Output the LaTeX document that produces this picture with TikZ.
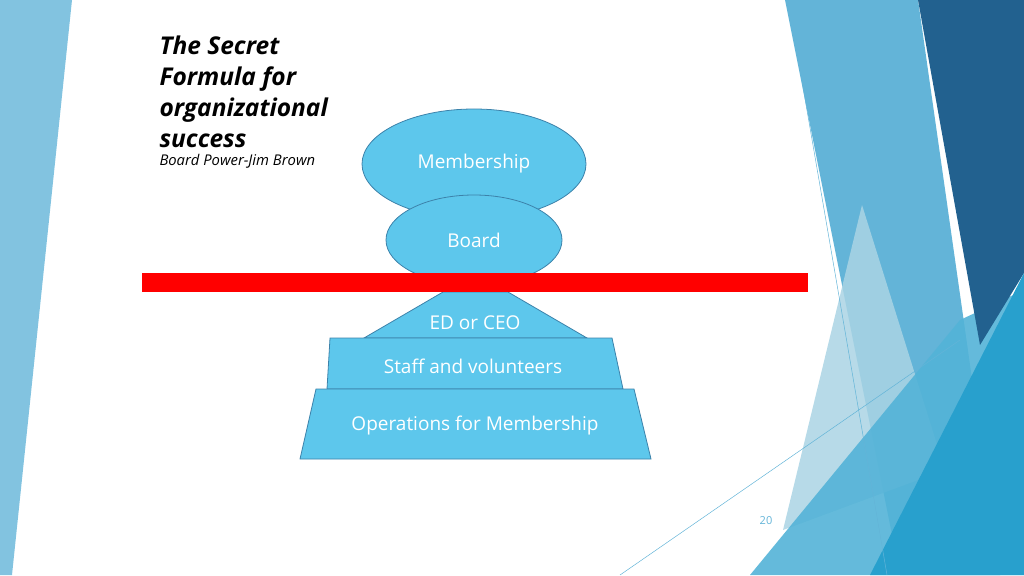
\documentclass[tikz,border=0pt]{standalone}
\usepackage{fontspec}
\setmainfont{Open Sans}
\usetikzlibrary{shapes.geometric}
\definecolor{tierblue}{RGB}{93,199,236}
\definecolor{tierline}{RGB}{60,130,170}
\definecolor{lightdeco}{RGB}{99,180,216}
\definecolor{darkdeco}{RGB}{34,97,143}
\definecolor{middeco}{RGB}{40,160,205}
\definecolor{paledeco}{RGB}{170,212,228}
\begin{document}
\begin{tikzpicture}[x=1pt,y=-1pt,
  tier/.style={fill=tierblue,draw=tierline,line width=0.8pt},
  oval/.style={ellipse,fill=tierblue,draw=tierline,line width=0.8pt,text=white,font=\fontsize{19}{21}\selectfont},
  tiertext/.style={text=white,font=\fontsize{19}{21}\selectfont}]
  \useasboundingbox (0,0) rectangle (1024,575);

  % background decoration
  \fill[lightdeco!80] (0,0) -- (72,0) -- (12,575) -- (0,575) -- cycle;
  \fill[lightdeco] (785,0) -- (918,0) -- (1000,575) -- (900,575) -- cycle;
  \fill[paledeco,opacity=0.85] (862,205) -- (945,470) -- (783,530) -- cycle;
  \fill[middeco!80!white,opacity=0.9] (750,575) -- (960,320) -- (1024,290) -- (1024,575) -- cycle;
  \fill[darkdeco] (918,0) -- (1024,0) -- (1024,273) -- (980,345) -- cycle;
  \fill[middeco] (1024,273) -- (1024,575) -- (870,575) -- cycle;
  \draw[lightdeco,line width=0.5pt] (788,0) -- (887,575);
  \draw[lightdeco,line width=0.5pt] (620,575) -- (960,340);

  % title
  \node[anchor=north west,align=left,font=\fontsize{24.5}{31}\selectfont\bfseries\itshape]
    (title) at (156,32) {The Secret\\Formula for\\organizational\\success};
  \node[anchor=north west,font=\fontsize{14.8}{16}\selectfont\itshape]
    (source) at (156,151) {Board Power-Jim Brown};

  % ovals
  \node[oval,minimum width=224pt,minimum height=110pt] (member) at (474,164) {Membership};
  \node[oval,minimum width=176pt,minimum height=90pt] (board) at (474,240) {Board};

  % pyramid
  \draw[tier] (443,292) -- (508,292) -- (587,338) -- (364,338) -- cycle;
  \draw[tier] (330,338) -- (612,338) -- (623,389) -- (327,389) -- cycle;
  \draw[tier] (316,389) -- (634,389) -- (651,459) -- (300,459) -- cycle;
  \node[tiertext] (ceo) at (475,323) {ED or CEO};
  \node[tiertext] (staff) at (473,366) {Staff and volunteers};
  \node[tiertext] (ops) at (475,426) {Operations for Membership};

  % red line
  \fill[red] (142,273) rectangle (808,292);

  \node[text=lightdeco,font=\fontsize{11}{12}\selectfont] (page) at (766,521) {20};
\end{tikzpicture}
\end{document}
